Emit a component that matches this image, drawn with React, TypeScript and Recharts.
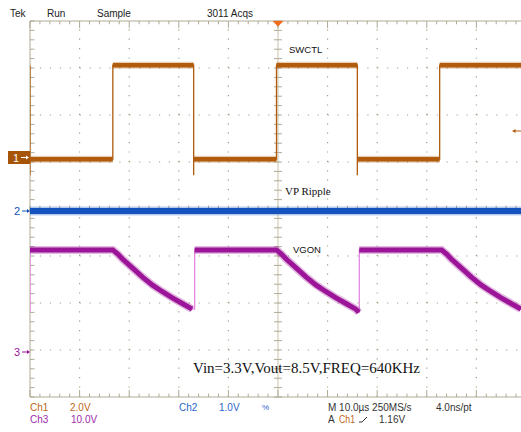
import React from "react";
import { ComposedChart, Line, XAxis, YAxis, ReferenceLine } from "recharts";

// screen in divisions: 9.9 visible of 10 horizontally, 8 vertically
const X_DIVS = 9.9;
const Y_DIVS = 8;

// Ch1 SWCTL (div)
const ch1Low = 5.06;
const ch1High = 7.06;
const ch1Undershoot = 4.72;
const ch1Falls = [0, 3.3, 6.6];
const ch1Rises = [1.67, 4.97, 8.26];

// Ch2 VP ripple
const ch2Times = [0, 2.5, 5, 7.5, 9.9];
const ch2Levels = [3.96, 3.96, 3.96, 3.96, 3.96];

// Ch3 VGON
const ch3High = 3.13;
const ch3Trough = 1.8;
const ch3Jumps = [0, 3.32, 6.64];
const ch3DecayStarts = [1.67, 4.97, 8.3];
const ch3DecayOffsets = [0, 0.1, 0.2, 0.4, 0.6, 0.8, 1.0, 1.2, 1.4, 1.6, 1.66];
const ch3DecayLevels = [3.13, 3.04, 2.93, 2.74, 2.55, 2.38, 2.24, 2.11, 1.99, 1.87, 1.8];

type Pt = { t: number; v: number | null };

function buildCh1() {
  const events = [
    ...ch1Falls.map((t) => ({ t, up: false })),
    ...ch1Rises.map((t) => ({ t, up: true })),
  ].sort((a, b) => a.t - b.t);
  const thin: Pt[] = [];
  const band: Pt[] = [];
  let level = ch1High;
  events.forEach((e, i) => {
    const next = e.up ? ch1High : ch1Low;
    const end = i + 1 < events.length ? events[i + 1].t : X_DIVS;
    thin.push({ t: e.t, v: level });
    if (!e.up) thin.push({ t: e.t, v: ch1Undershoot });
    thin.push({ t: e.t, v: next });
    thin.push({ t: end, v: next });
    band.push({ t: e.t, v: next }, { t: end, v: next }, { t: end, v: null });
    level = next;
  });
  return { thin, band };
}

function buildCh3() {
  const thin: Pt[] = [];
  const band: Pt[] = [];
  let bottom = ch3Trough;
  ch3Jumps.forEach((j, i) => {
    const d = ch3DecayStarts[i];
    const end = i + 1 < ch3Jumps.length ? ch3Jumps[i + 1] : X_DIVS;
    thin.push({ t: j, v: bottom }, { t: j, v: ch3High });
    const seg: Pt[] = [{ t: j, v: ch3High }];
    ch3DecayOffsets.forEach((o, k) => {
      const t = +(d + o).toFixed(3);
      if (t <= end + 0.001) {
        seg.push({ t, v: ch3DecayLevels[k] });
        bottom = ch3DecayLevels[k];
      }
    });
    thin.push(...seg);
    band.push(...seg, { t: seg[seg.length - 1].t, v: null });
  });
  return { thin, band };
}

const ch1 = buildCh1();
const ch3 = buildCh3();
const ch2 = ch2Times.map((t, i) => ({ t, v: ch2Levels[i] }));

const ORANGE = "#b05c0c";
const BLUE = "#1452bd";
const MAGENTA = "#9c1599";
const PINK = "#e58ae3";
const GRID = "#a29c84";
const AXIS = "#b0aa94";

const range = (n: number, step: number) => Array.from({ length: n }, (_, i) => +(i * step).toFixed(3));

export default function App() {
  const minorX = range(50, 0.2).filter((t) => t <= X_DIVS);
  const minorY = range(41, 0.2);
  const isMajor = (v: number) => Math.abs(v - Math.round(v)) < 0.001;

  const tickLines: React.ReactNode[] = [];
  minorX.forEach((t, i) => {
    const big = isMajor(t) ? 0.15 : 0.07;
    tickLines.push(
      <ReferenceLine key={`b${i}`} segment={[{ x: t, y: 0 }, { x: t, y: big }]} stroke={AXIS} />,
      <ReferenceLine key={`t${i}`} segment={[{ x: t, y: Y_DIVS }, { x: t, y: Y_DIVS - big }]} stroke={AXIS} />,
      <ReferenceLine key={`c${i}`} segment={[{ x: t, y: 3.93 }, { x: t, y: 4.07 }]} stroke={AXIS} />
    );
  });
  minorY.forEach((y, i) => {
    tickLines.push(
      <ReferenceLine key={`l${i}`} segment={[{ x: 0, y }, { x: 0.09, y }]} stroke={AXIS} />,
      <ReferenceLine key={`m${i}`} segment={[{ x: 4.92, y }, { x: 5.08, y }]} stroke={AXIS} />
    );
  });

  const sans = "'Liberation Sans', Arial, sans-serif";
  const serif = "'Liberation Serif', 'Times New Roman', serif";

  return (
    <div style={{ position: "absolute", left: 0, top: 0, width: 521, height: 432, overflow: "hidden", background: "#fff" }}>
      <ComposedChart width={521} height={432} margin={{ top: 21, left: 30, right: 0, bottom: 35 }}>
        <XAxis dataKey="t" type="number" domain={[0, X_DIVS]} allowDataOverflow hide />
        <YAxis type="number" domain={[0, Y_DIVS]} allowDataOverflow hide />
        {[1, 2, 3, 4, 6, 7, 8, 9].map((x) => (
          <ReferenceLine key={`gx${x}`} x={x} stroke={GRID} strokeWidth={1.2} strokeDasharray="1.2 8.2" />
        ))}
        {[1, 2, 3, 5, 6, 7].map((y) => (
          <ReferenceLine key={`gy${y}`} y={y} stroke={GRID} strokeWidth={1.2} strokeDasharray="1.2 8.72" />
        ))}
        <ReferenceLine x={5} stroke="#c9c3ad" />
        <ReferenceLine y={4} stroke="#c9c3ad" />
        <ReferenceLine x={0} stroke={AXIS} />
        <ReferenceLine y={0} stroke={AXIS} />
        <ReferenceLine y={Y_DIVS} stroke={AXIS} />
        {tickLines}

        <Line data={ch2} dataKey="v" stroke={BLUE} strokeOpacity={0.3} strokeWidth={9} dot={false} isAnimationActive={false} />
        <Line data={ch2} dataKey="v" stroke={BLUE} strokeWidth={6} dot={false} isAnimationActive={false} />

        <Line data={ch1.thin} dataKey="v" stroke={ORANGE} strokeWidth={1.3} dot={false} isAnimationActive={false} />
        <Line data={ch1.band} dataKey="v" stroke={ORANGE} strokeOpacity={0.3} strokeWidth={7} strokeLinecap="butt" dot={false} isAnimationActive={false} />
        <Line data={ch1.band} dataKey="v" stroke={ORANGE} strokeWidth={4.5} strokeLinecap="butt" dot={false} isAnimationActive={false} />

        <Line data={ch3.thin} dataKey="v" stroke={PINK} strokeWidth={1.3} dot={false} isAnimationActive={false} />
        <Line data={ch3.band} dataKey="v" stroke={MAGENTA} strokeOpacity={0.3} strokeWidth={8} strokeLinecap="butt" dot={false} isAnimationActive={false} />
        <Line data={ch3.band} dataKey="v" stroke={MAGENTA} strokeWidth={5} strokeLinecap="butt" dot={false} isAnimationActive={false} />
      </ComposedChart>

      <svg width={521} height={432} style={{ position: "absolute", left: 0, top: 0, pointerEvents: "none" }}>
        <g fontFamily={sans} fontSize={10} fill="#222">
          <text x={10} y={17}>Tek</text>
          <text x={47} y={17}>Run</text>
          <text x={97} y={17}>Sample</text>
          <text x={207} y={17}>3011 Acqs</text>
        </g>
        <polygon points="272.5,21 283.5,21 278,26.5" fill="#f26b1d" />

        <text x={289} y={53} fontFamily={sans} fontSize={9.5} fill="#111">SWCTL</text>
        <text x={285} y={195} fontFamily={serif} fontSize={11} fill="#111">VP Ripple</text>
        <text x={293} y={253} fontFamily={sans} fontSize={9.5} fill="#111">VGON</text>
        <text x={193} y={373} fontFamily={serif} fontSize={15} fill="#111">Vin=3.3V,Vout=8.5V,FREQ=640KHz</text>

        {/* channel ground markers */}
        <rect x={8} y={151} width={22} height={13} fill="#a65408" />
        <text x={13} y={162} fontFamily={sans} fontSize={11} fill="#fff">1</text>
        <line x1={21} y1={157.5} x2={28} y2={157.5} stroke="#fff" strokeWidth={1} />
        <polygon points="29,157.5 26,155.5 26,159.5" fill="#fff" />

        <text x={14} y={215} fontFamily={sans} fontSize={11} fill={BLUE}>2</text>
        <line x1={22} y1={211} x2={28} y2={211} stroke={BLUE} />
        <polygon points="30,211 27,209 27,213" fill={BLUE} />

        <text x={14} y={356} fontFamily={sans} fontSize={11} fill={MAGENTA}>3</text>
        <line x1={22} y1={352} x2={28} y2={352} stroke={MAGENTA} />
        <polygon points="30,352 27,350 27,354" fill={MAGENTA} />

        <line x1={514} y1={131} x2={521} y2={131} stroke={ORANGE} />
        <polygon points="512,131 515.5,129 515.5,133" fill={ORANGE} />

        <g fontFamily={sans} fontSize={10}>
          <text x={30} y={411} fill="#c0661a">Ch1</text>
          <text x={70} y={411} fill="#c0661a">2.0V</text>
          <text x={179} y={411} fill="#2a66cc">Ch2</text>
          <text x={219} y={411} fill="#2a66cc">1.0V</text>
          <text x={262} y={410} fill="#2a66cc" fontSize={8}>%</text>
          <text x={328} y={411} fill="#333">M 10.0µs 250MS/s</text>
          <text x={436} y={411} fill="#333">4.0ns/pt</text>
          <text x={30} y={423} fill="#a02aaa">Ch3</text>
          <text x={71} y={423} fill="#a02aaa">10.0V</text>
          <text x={328} y={423} fill="#333">A</text>
          <text x={339} y={423} fill="#c0661a" textLength={16} lengthAdjust="spacingAndGlyphs">Ch1</text>
          <line x1={362} y1={422} x2={367} y2={417} stroke="#333" strokeWidth={1} />
          <line x1={359} y1={422} x2={362} y2={422} stroke="#333" strokeWidth={1} />
          <text x={379} y={423} fill="#333">1.16V</text>
        </g>
      </svg>
    </div>
  );
}
